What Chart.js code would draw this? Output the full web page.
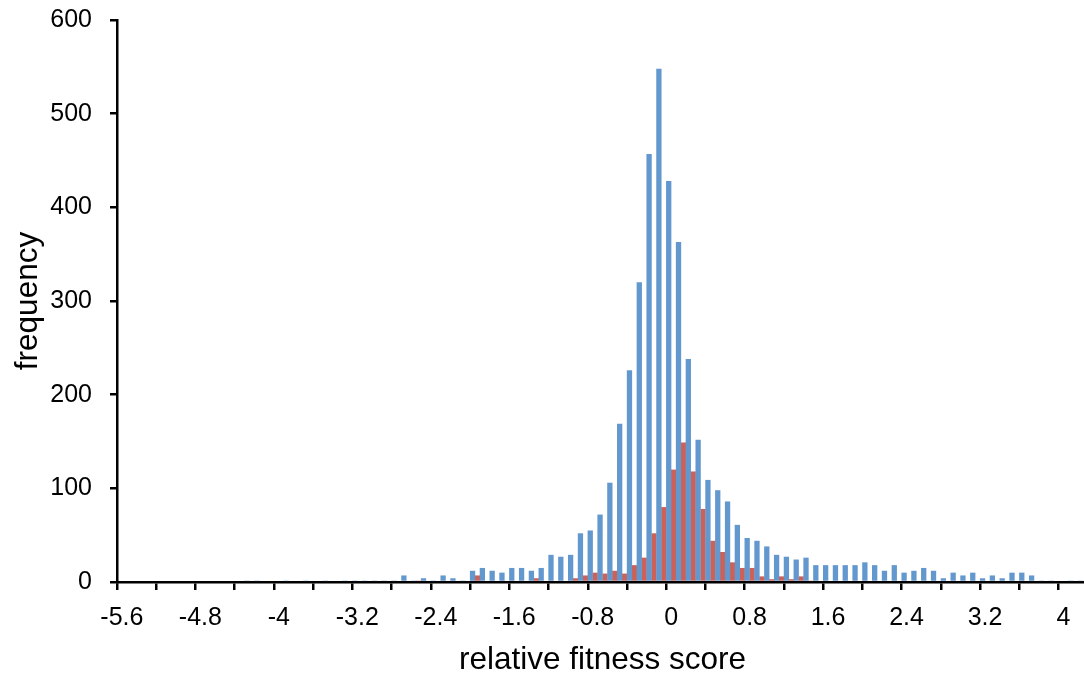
<!DOCTYPE html>
<html><head><meta charset="utf-8">
<script src="https://cdn.jsdelivr.net/npm/chart.js@4.4.1/dist/chart.umd.min.js"></script>
<style>html,body{margin:0;padding:0;background:#fff;overflow:hidden}canvas{display:block}</style>
</head><body>
<canvas id="c" width="1088" height="679" style="width:1088px;height:679px"></canvas>
<script>
const categories = [
"-5.6","-5.5","-5.4","-5.3","-5.2","-5.1","-5","-4.9","-4.8","-4.7",
"-4.6","-4.5","-4.4","-4.3","-4.2","-4.1","-4","-3.9","-3.8","-3.7",
"-3.6","-3.5","-3.4","-3.3","-3.2","-3.1","-3","-2.9","-2.8","-2.7",
"-2.6","-2.5","-2.4","-2.3","-2.2","-2.1","-2","-1.9","-1.8","-1.7",
"-1.6","-1.5","-1.4","-1.3","-1.2","-1.1","-1","-0.9","-0.8","-0.7",
"-0.6","-0.5","-0.4","-0.3","-0.2","-0.1","0","0.1","0.2","0.3",
"0.4","0.5","0.6","0.7","0.8","0.9","1","1.1","1.2","1.3",
"1.4","1.5","1.6","1.7","1.8","1.9","2","2.1","2.2","2.3",
"2.4","2.5","2.6","2.7","2.8","2.9","3","3.1","3.2","3.3",
"3.4","3.5","3.6","3.7","3.8","3.9","4","4.1","4.2"];

const blueCounts = [
0,0,0,0,0,0,0,0,0,0,
0,0,0,1,1,0,0,1,0,1,
0,1,0,1,1,1,1,1,1,7,
1,4,1,7,4,1,12,15,12,10,
15,15,12,15,29,27,29,52,55,72,
106,169,226,320,457,548,428,363,238,152,
109,98,86,61,47,44,38,29,27,24,
26,18,18,18,18,18,21,18,12,18,
10,12,15,12,4,10,7,10,4,7,
4,10,10,7,1,1,0,1,1];

const redCounts = [
0,0,0,0,0,0,0,0,0,0,
0,0,0,0,0,0,0,0,0,0,
0,0,0,0,0,0,0,0,0,0,
1,0,0,0,0,0,7,0,0,0,
0,0,4,0,0,0,4,7,10,9,
12,9,18,26,52,80,120,149,118,78,
44,32,21,15,15,6,3,6,3,6,
1,0,0,0,0,0,0,0,0,0,
0,0,0,0,0,0,0,0,0,0,
0,0,0,0,0,0,0,0,0];

const yTicks = [0,100,200,300,400,500,600];

const FONT = "'Liberation Sans', Arial, sans-serif";
Chart.defaults.font.family = FONT;
Chart.defaults.color = '#000';

new Chart(document.getElementById('c'), {
  type: 'bar',
  data: {
    labels: categories,
    datasets: [
      { label: 'all', data: blueCounts, backgroundColor: '#6398CE', barPercentage: 1.08, categoryPercentage: 1.0 },
      { label: 'subset', data: redCounts, backgroundColor: '#CD6158', barPercentage: 1.08, categoryPercentage: 1.0 }
    ]
  },
  options: {
    responsive: false,
    animation: false,
    devicePixelRatio: 1,
    layout: { padding: { top: 20, right: 0, left: 0, bottom: 0 } },
    plugins: { legend: { display: false }, tooltip: { enabled: false } },
    scales: {
      x: {
        type: 'category',
        offset: true,
        afterFit: s => { s.height = 97; s.paddingLeft = 0; s.paddingRight = 0; },
        grid: {
          offset: true,
          drawOnChartArea: false,
          drawTicks: true,
          tickLength: 8,
          lineWidth: 2.5,
          tickColor: ctx => (ctx.index % 4 === 0 ? '#000' : 'rgba(0,0,0,0)'),
          color: 'rgba(0,0,0,0)'
        },
        border: { display: true, color: '#000', width: 2.5 },
        ticks: {
          autoSkip: false, maxRotation: 0, minRotation: 0,
          padding: 13,
          font: { size: 25 },
          color: '#000',
          callback: function (val, idx) { return idx % 8 === 0 ? this.getLabelForValue(val) : ''; }
        },
        title: { display: true, text: 'relative fitness score', font: { size: 31.5 }, color: '#000', padding: { top: 0, bottom: 0 } }
      },
      y: {
        min: 0, max: 600,
        afterFit: s => { s.width = 117; s.paddingTop = 0; s.paddingBottom = 0; },
        afterBuildTicks: s => { s.ticks = yTicks.map(v => ({ value: v })); },
        grid: {
          drawOnChartArea: false,
          drawTicks: true,
          tickLength: 7,
          lineWidth: 2.5,
          tickColor: '#000',
          color: 'rgba(0,0,0,0)'
        },
        border: { display: true, color: '#000', width: 2.5 },
        ticks: { padding: 18, font: { size: 25 }, color: '#000' },
        title: { display: true, text: 'frequency', font: { size: 31.5 }, color: '#000', padding: { top: 9, bottom: 0 } }
      }
    }
  }
});
</script>
</body></html>
